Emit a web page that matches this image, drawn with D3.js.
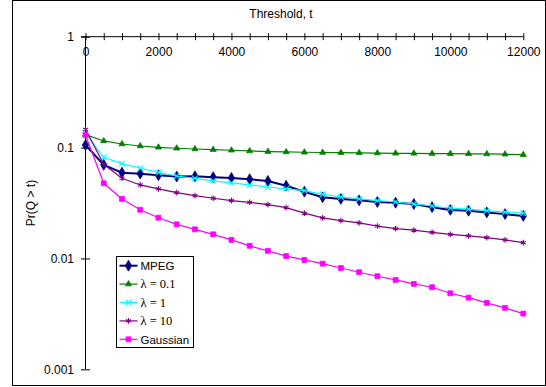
<!DOCTYPE html>
<html>
<head>
<meta charset="utf-8">
<script src="https://cdn.jsdelivr.net/npm/d3@7"></script>
<style>
  body { margin: 0; background: #fff; }
  svg { display: block; font-family: "Liberation Sans", Arial, sans-serif; }
</style>
</head>
<body>
<svg id="chart" width="546" height="387"></svg>
<script>
// threshold values, every 500 from 0 to 12000
const thresholds = d3.range(0, 12001, 500);

const mpeg = [0.1055, 0.0699, 0.0594, 0.0582, 0.0563, 0.0547, 0.0551, 0.0540, 0.0532, 0.0518, 0.0500, 0.0453, 0.0400,
    0.0356, 0.0344, 0.0334, 0.0323, 0.0318, 0.0310, 0.0290, 0.0274, 0.0269, 0.0260, 0.0251, 0.0242];
const lambda01 = [0.131, 0.1147, 0.1077, 0.1033, 0.1006, 0.0986, 0.0971, 0.0958, 0.0946, 0.0932, 0.0919, 0.0913, 0.0907,
    0.0903, 0.0899, 0.0896, 0.0892, 0.0888, 0.0887, 0.0883, 0.0881, 0.0878, 0.0876, 0.0871, 0.0863];
const lambda1 = [0.1346, 0.0818, 0.0716, 0.0651, 0.0598, 0.0554, 0.0528, 0.0500, 0.0480, 0.0460, 0.0441, 0.0424, 0.0409,
    0.0379, 0.0359, 0.0344, 0.0332, 0.0323, 0.0310, 0.0297, 0.0285, 0.0278, 0.0270, 0.0262, 0.0256];
const lambda10 = [0.146, 0.0707, 0.0528, 0.0460, 0.0424, 0.0392, 0.0368, 0.0349, 0.0332, 0.0321, 0.0306, 0.0287, 0.0256,
    0.0232, 0.0219, 0.0209, 0.0196, 0.0186, 0.0180, 0.0172, 0.0165, 0.0160, 0.0154, 0.0147, 0.0139];
const gaussian = [0.130, 0.0476, 0.0344, 0.0275, 0.0233, 0.0203, 0.0183, 0.0165, 0.0147, 0.0130, 0.0117, 0.0105, 0.00969,
    0.00897, 0.00820, 0.00751, 0.00691, 0.00640, 0.00589, 0.00550, 0.00485, 0.00443, 0.00397, 0.00358, 0.00318];

const seriesNames = ["MPEG", "\u03bb = 0.1", "\u03bb = 1", "\u03bb = 10", "Gaussian"];
const yTicks = [0.001, 0.01, 0.1, 1];
const yTickLabels = ["0.001", "0.01", "0.1", "1"];

const series = [
    {name: seriesNames[0], values: mpeg, color: "#000080", width: 2, symbol: d3.symbolDiamond, size: 34, stroke: false, serif: false},
    {name: seriesNames[1], values: lambda01, color: "#008000", width: 1.2, symbol: d3.symbolTriangle, size: 16, stroke: false, serif: true},
    {name: seriesNames[2], values: lambda1, color: "#00ffff", width: 1.2, symbol: d3.symbolTimes, size: 22, stroke: true, serif: true},
    {name: seriesNames[3], values: lambda10, color: "#800080", width: 1.2, symbol: d3.symbolAsterisk, size: 22, stroke: true, serif: true},
    {name: seriesNames[4], values: gaussian, color: "#ff00ff", width: 1.2, symbol: d3.symbolSquare, size: 24, stroke: false, serif: false}
];

const svg = d3.select("#chart");

// chart area border
svg.append("rect")
    .attr("x", 12.5).attr("y", 0.5)
    .attr("width", 533).attr("height", 385)
    .attr("fill", "none").attr("stroke", "#000").attr("stroke-width", 1);

const x = d3.scaleLinear().domain([0, 12000]).range([85.5, 523.3]);
const y = d3.scaleLog().domain([0.001, 1]).range([369.3, 36.7]);

// top x axis, crossing tick marks
const xAxis = svg.append("g")
    .attr("transform", "translate(0," + y(1) + ")")
    .call(d3.axisBottom(x)
        .tickValues(thresholds)
        .tickSize(3.5)
        .tickPadding(7)
        .tickFormat(d => d % 2000 === 0 ? d : ""));
xAxis.select(".domain").attr("d", "M" + (x(0) - 4.5) + ",0H" + x(12000));
xAxis.selectAll(".tick line").attr("y1", -3.5);
xAxis.selectAll("text").attr("font-size", 12).attr("font-family", "Liberation Sans, Arial, sans-serif").attr("fill", "#000");

// left y axis
const yAxis = svg.append("g")
    .attr("transform", "translate(" + x(0) + ",0)")
    .call(d3.axisLeft(y)
        .tickValues(yTicks)
        .tickSize(4.5)
        .tickPadding(7)
        .tickFormat((d, i) => yTickLabels[i]));
yAxis.select(".domain").attr("d", "M0," + y(1) + "V" + y(0.001));
yAxis.selectAll(".tick line").attr("x1", 4.5);
yAxis.selectAll("text").attr("font-size", 12).attr("font-family", "Liberation Sans, Arial, sans-serif").attr("fill", "#000");

svg.append("text")
    .attr("x", 281).attr("y", 18)
    .attr("text-anchor", "middle")
    .attr("font-size", 12)
    .text("Threshold, t");

svg.append("text")
    .attr("text-anchor", "middle")
    .attr("transform", "translate(35," + ((y(1) + y(0.001)) / 2) + ")rotate(-90)")
    .attr("font-size", 12)
    .text("Pr(Q > t)");

const line = d3.line()
    .x((d, i) => x(thresholds[i]))
    .y(d => y(d));

function drawMarker(sel, s) {
    sel.attr("d", d3.symbol().type(s.symbol).size(s.size))
        .attr("fill", s.stroke ? "none" : s.color)
        .attr("stroke", s.color)
        .attr("stroke-width", s.stroke ? 1.1 : 0.8);
}

series.forEach((s, k) => {
    svg.append("path")
        .attr("d", line(s.values))
        .attr("fill", "none")
        .attr("stroke", s.color)
        .attr("stroke-width", s.width);
    svg.append("g").attr("id", "series" + k)
        .selectAll("path").data(s.values)
        .enter()
        .append("path")
        .attr("transform", (d, i) => "translate(" + x(thresholds[i]) + "," + y(d) + ")")
        .call(drawMarker, s);
});

// legend
const legend = svg.append("g");
legend.append("rect")
    .attr("x", 116.5).attr("y", 256.5)
    .attr("width", 77).attr("height", 91)
    .attr("fill", "#fff").attr("stroke", "#000").attr("stroke-width", 1);

series.forEach((s, k) => {
    const ly = 265.7 + k * 18.4;
    const g = legend.append("g");
    g.append("line")
        .attr("x1", 119.5).attr("x2", 137.5)
        .attr("y1", ly).attr("y2", ly)
        .attr("stroke", s.color).attr("stroke-width", s.width);
    g.append("path")
        .attr("transform", "translate(128.5," + ly + ")")
        .call(drawMarker, s);
    g.append("text")
        .attr("x", 140.5).attr("y", ly + 4.3)
        .attr("font-size", s.serif ? 12.5 : 11.5)
        .attr("font-family", s.serif ? "Liberation Serif, Times New Roman, serif" : "Liberation Sans, Arial, sans-serif")
        .text(s.name);
});
</script>
</body>
</html>
